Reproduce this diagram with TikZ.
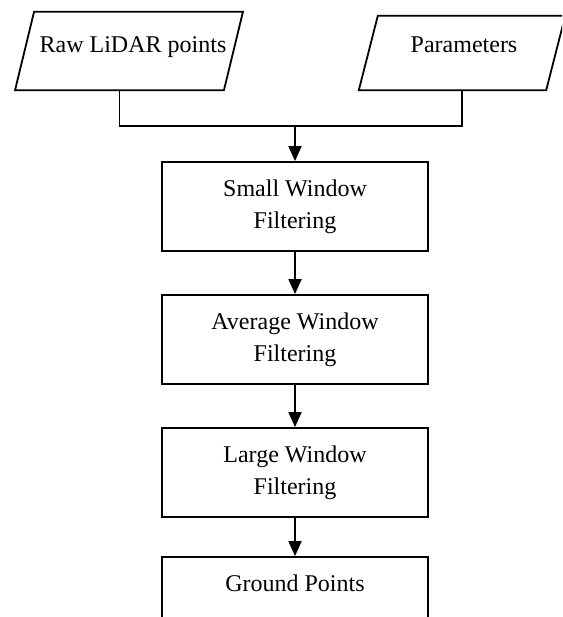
\documentclass[tikz,border=0pt]{standalone}
\usepackage{fontspec}
\setmainfont{Liberation Serif}
\usetikzlibrary{arrows.meta}

\tikzset{
  outline/.style={draw=black, line width=1.8pt, line join=miter},
  txt/.style={font=\fontsize{24}{32}\selectfont, text=black, inner sep=0pt},
  % invisible frame that carries the body of a slanted input box
  ioframe/.style={rectangle, inner sep=0pt},
  stepbox/.style={outline, txt, rectangle, minimum width=266pt,
    minimum height=89pt, align=center},
  link/.style={line width=1.8pt, draw=black},
  arr/.style={link, -{Triangle[length=15pt,width=13pt]}},
}
% slanted outline around an ioframe node: #1 = node, #2 = half the slant
\newcommand{\slantbox}[2]{%
  \draw[outline] ([xshift=#2]#1.north west) -- ([xshift=#2]#1.north east)
    -- ([xshift=-#2]#1.south east) -- ([xshift=-#2]#1.south west) -- cycle;}

\begin{document}
\begin{tikzpicture}[x=1pt, y=-1pt]
  \useasboundingbox (0,0) rectangle (562,617);
  \clip (0,0) rectangle (562,617);

  % input boxes
  \node[ioframe, minimum width=208.5pt, minimum height=78pt] (rawbox) at (129,51) {};
  \slantbox{rawbox}{9.5pt}
  \node[txt, anchor=base] (rawtxt) at (133,53) {Raw LiDAR points};

  \node[ioframe, minimum width=187pt, minimum height=74pt] (parbox) at (462,53) {};
  \slantbox{parbox}{9.5pt}
  \node[txt, anchor=base] (partxt) at (464,53) {Parameters};

  % processing chain
  \node[stepbox] (small) at (295,206.5) {Small Window\\Filtering};
  \node[stepbox] (avg)   at (295,339.5) {Average Window\\Filtering};
  \node[stepbox] (large) at (295,472.5) {Large Window\\Filtering};
  \node[stepbox, text depth=37pt] (ground) at (295,601.5) {Ground Points};

  % merging the two inputs
  \coordinate (rawout) at ([xshift=-9.5pt]rawbox.south);
  \coordinate (parout) at (parbox.south);
  \coordinate (join) at (295,126);
  \draw[link] (rawout) |- (join) -| (parout);

  \draw[arr] (join) -- (small);
  \draw[arr] (small) -- (avg);
  \draw[arr] (avg) -- (large);
  \draw[arr] (large) -- (ground);
\end{tikzpicture}
\end{document}
